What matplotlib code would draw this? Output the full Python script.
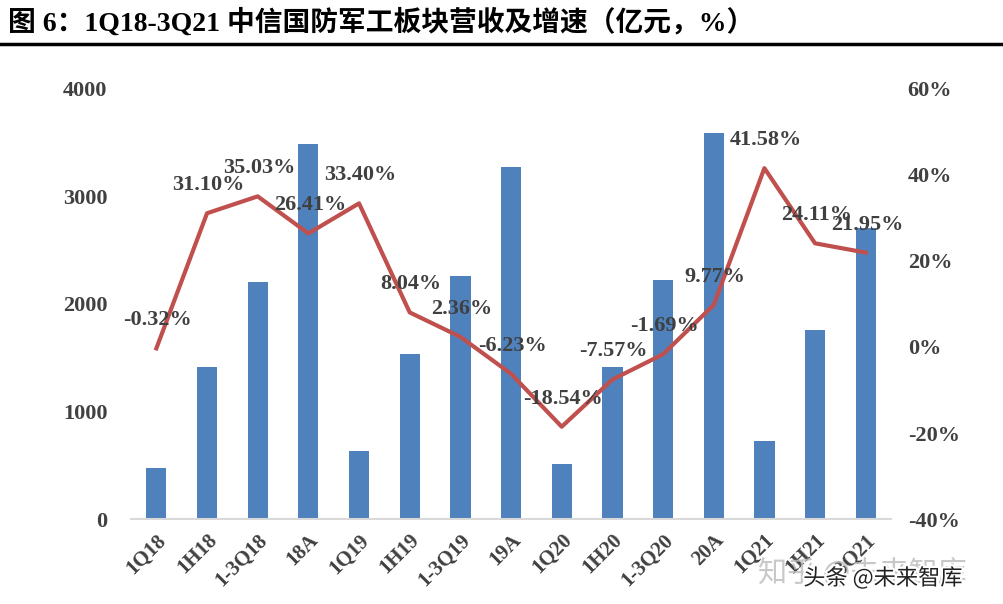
import matplotlib.pyplot as plt
import matplotlib.patheffects as pe
import numpy as np

# 数据
categories = ['1Q18', '1H18', '1-3Q18', '18A', '1Q19', '1H19', '1-3Q19', '19A',
              '1Q20', '1H20', '1-3Q20', '20A', '1Q21', '1H21', '1-3Q21']
revenue = [474, 1414, 2205, 3488, 633, 1535, 2260, 3274,
           512, 1414, 2223, 3591, 726, 1758, 2707]
growth = [-0.32, 31.10, 35.03, 26.41, 33.40, 8.04, 2.36, -6.23,
          -18.54, -7.57, -1.69, 9.77, 41.58, 24.11, 21.95]
left_ticks = [0, 1000, 2000, 3000, 4000]
right_ticks = [-40, -20, 0, 20, 40, 60]

serif = ['Liberation Serif', 'Noto Sans CJK SC', 'DejaVu Sans']
gray = '#404040'


def main():
    fig = plt.figure(figsize=(10.04, 6.04), dpi=100)
    ax = fig.add_axes([0.1305, 0.1407, 0.757, 0.712])
    x = np.arange(len(categories))

    ax.bar(x, revenue, width=0.4, color='#4f81bd', zorder=2)
    ax.set_xlim(-0.5, len(categories) - 0.5)
    ax.set_ylim(0, 4000)
    ax.set_yticks(left_ticks)
    ax.set_yticklabels([str(v) for v in left_ticks], family=serif,
                       fontweight='bold', fontsize=16, color=gray)
    ax.set_xticks(x)
    ax.set_xticklabels(categories, family=serif, fontweight='bold', fontsize=15,
                       color=gray, rotation=45, ha='right', va='top',
                       rotation_mode='anchor')
    ax.tick_params(axis='both', length=0)
    ax.tick_params(axis='y', pad=17)
    ax.tick_params(axis='x', pad=8)
    for s in ['top', 'right', 'left']:
        ax.spines[s].set_visible(False)
    ax.spines['bottom'].set_color('#d9d9d9')
    ax.spines['bottom'].set_linewidth(1.5)

    ax2 = ax.twinx()
    ax2.plot(x, growth, color='#c0504d', linewidth=3, zorder=3)
    ax2.set_ylim(-40, 60)
    ax2.set_yticks(right_ticks)
    ax2.set_yticklabels([f'{v}%' for v in right_ticks], family=serif,
                        fontweight='bold', fontsize=16, color=gray)
    ax2.tick_params(axis='y', length=0, pad=12)
    for s in ax2.spines.values():
        s.set_visible(False)

    for xi, g in zip(x, growth):
        ax2.annotate(f'{g:.2f}%', (xi, g), xytext=(1, 13), textcoords='offset points',
                     ha='center', va='bottom', family=serif, fontweight='bold',
                     fontsize=16, color=gray, zorder=4)

    fig.text(0.008, 0.962, '图 6：1Q18-3Q21 中信国防军工板块营收及增速（亿元，%）',
             family=serif, fontweight='bold', fontsize=20, color='black',
             ha='left', va='center')
    fig.add_artist(plt.Line2D([0, 1], [0.927, 0.927], color='black', linewidth=2.5))

    # 水印
    fig.text(0.755, 0.048, '知乎 @未来智库', family=['Noto Sans CJK SC'],
             fontsize=21, color='#bbbbbb', alpha=0.8, ha='left', va='center')
    fig.text(0.80, 0.043, '头条 @未来智库', family=['Noto Sans CJK SC'],
             fontsize=16, color='#222222', ha='left', va='center',
             path_effects=[pe.withStroke(linewidth=3, foreground='white')])

    fig.savefig('out.png', dpi=100)


if __name__ == "__main__":
    main()
